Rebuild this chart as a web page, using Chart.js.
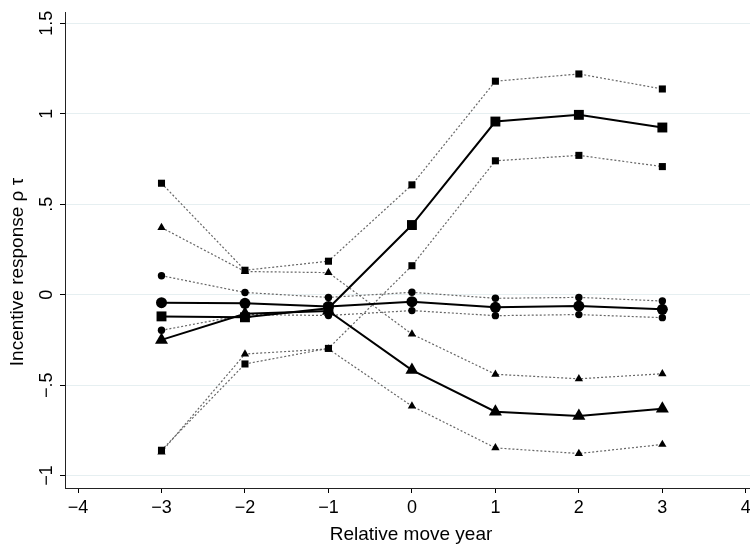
<!DOCTYPE html>
<html>
<head>
<meta charset="utf-8">
<script src="https://cdn.jsdelivr.net/npm/chart.js@4"></script>
<style>
  body { margin: 0; background: #fff; }
  canvas { display: block; }
</style>
</head>
<body>
<canvas id="chart" width="750" height="548"></canvas>
<script>
// relative move years
const years = [-3, -2, -1, 0, 1, 2, 3];

// square series: estimate and bounds
const squareEst = [-0.12, -0.125, -0.075, 0.385, 0.957, 0.994, 0.924];
const squareHi = [0.616, 0.135, 0.185, 0.607, 1.18, 1.22, 1.137];
const squareLo = [-0.86, -0.383, -0.297, 0.16, 0.74, 0.77, 0.708];

// circle series
const circleEst = [-0.044, -0.048, -0.065, -0.039, -0.07, -0.063, -0.081];
const circleHi = [0.105, 0.012, -0.015, 0.013, -0.02, -0.015, -0.035];
const circleLo = [-0.197, -0.11, -0.115, -0.088, -0.116, -0.11, -0.127];

// triangle series
const triEst = [-0.25, -0.105, -0.09, -0.417, -0.647, -0.671, -0.631];
const triHi = [0.371, 0.128, 0.122, -0.218, -0.44, -0.465, -0.437];
const triLo = [-0.87, -0.328, -0.3, -0.616, -0.847, -0.878, -0.828];

// axis ticks
const xTicks = [-4, -3, -2, -1, 0, 1, 2, 3, 4];
const xTickLabels = ["\u22124", "\u22123", "\u22122", "\u22121", "0", "1", "2", "3", "4"];
const yTicks = [-1, -0.5, 0, 0.5, 1, 1.5];
const yTickLabels = ["\u22121", "\u2212.5", "0", ".5", "1", "1.5"];

const FONT = "'Liberation Sans', Arial, Helvetica, sans-serif";

function pts(values) {
  return years.map((yr, i) => ({ x: yr, y: values[i] }));
}

function mainLine(values, style, radius) {
  return {
    data: pts(values),
    borderColor: "#000",
    borderWidth: 2,
    pointStyle: style,
    pointRadius: radius,
    pointBackgroundColor: "#000",
    pointBorderWidth: 0,
    tension: 0
  };
}

function ciLine(values, style, radius) {
  return {
    data: pts(values),
    borderColor: "#666",
    borderWidth: 1.2,
    borderDash: [2, 2],
    pointStyle: style,
    pointRadius: radius,
    pointBackgroundColor: "#000",
    pointBorderWidth: 0,
    tension: 0
  };
}

// tick labels and axis titles, placed with the chart's own scales
const textPlugin = {
  id: "stataText",
  afterDraw(chart) {
    const ctx = chart.ctx;
    const xs = chart.scales.x;
    const ys = chart.scales.y;
    ctx.save();
    ctx.fillStyle = "#000";
    ctx.font = "18px " + FONT;
    ctx.textAlign = "center";

    ctx.textBaseline = "alphabetic";
    xTicks.forEach((v, i) => {
      ctx.fillText(xTickLabels[i], xs.getPixelForValue(v), 513);
    });

    ctx.textBaseline = "middle";
    yTicks.forEach((v, i) => {
      const py = ys.getPixelForValue(v);
      ctx.save();
      ctx.translate(47, py);
      ctx.rotate(-Math.PI / 2);
      ctx.fillText(yTickLabels[i], 0, 0);
      ctx.restore();
    });

    ctx.font = "19px " + FONT;
    ctx.save();
    ctx.translate(18, 272);
    ctx.rotate(-Math.PI / 2);
    ctx.fillText("Incentive response \u03c1 \u03c4", 0, 0);
    ctx.restore();

    ctx.fillText("Relative move year", 411, 535);
    ctx.restore();
  }
};

new Chart(document.getElementById("chart"), {
  type: "line",
  data: {
    datasets: [
      mainLine(squareEst, "rect", 7),
      mainLine(circleEst, "circle", 5.5),
      mainLine(triEst, "triangle", 7.5),
      ciLine(squareHi, "rect", 5),
      ciLine(squareLo, "rect", 5),
      ciLine(circleHi, "circle", 3.7),
      ciLine(circleLo, "circle", 3.7),
      ciLine(triHi, "triangle", 4.8),
      ciLine(triLo, "triangle", 4.8)
    ]
  },
  options: {
    responsive: false,
    animation: false,
    layout: { autoPadding: false, padding: { top: 12, right: 0, left: 0, bottom: 0 } },
    plugins: {
      legend: { display: false },
      tooltip: { enabled: false }
    },
    scales: {
      x: {
        type: "linear",
        min: -4.156,
        max: 4.05,
        afterBuildTicks: (s) => { s.ticks = xTicks.map(v => ({ value: v })); },
        afterFit: (s) => { s.height = 60; s.paddingLeft = 0; s.paddingRight = 0; },
        ticks: { display: false },
        grid: {
          drawOnChartArea: false,
          drawTicks: true,
          tickLength: 5,
          tickColor: "#000",
          tickWidth: 1
        },
        border: { display: true, color: "#222", width: 1 }
      },
      y: {
        type: "linear",
        min: -1.0686,
        max: 1.5625,
        afterBuildTicks: (s) => { s.ticks = yTicks.map(v => ({ value: v })); },
        afterFit: (s) => { s.width = 65; s.paddingTop = 0; s.paddingBottom = 0; },
        ticks: { display: false },
        grid: {
          color: "#e6eff1",
          lineWidth: 1,
          drawTicks: true,
          tickLength: 5,
          tickColor: "#000",
          tickWidth: 1
        },
        border: { display: true, color: "#222", width: 1 }
      }
    }
  },
  plugins: [textPlugin]
});
</script>
</body>
</html>
